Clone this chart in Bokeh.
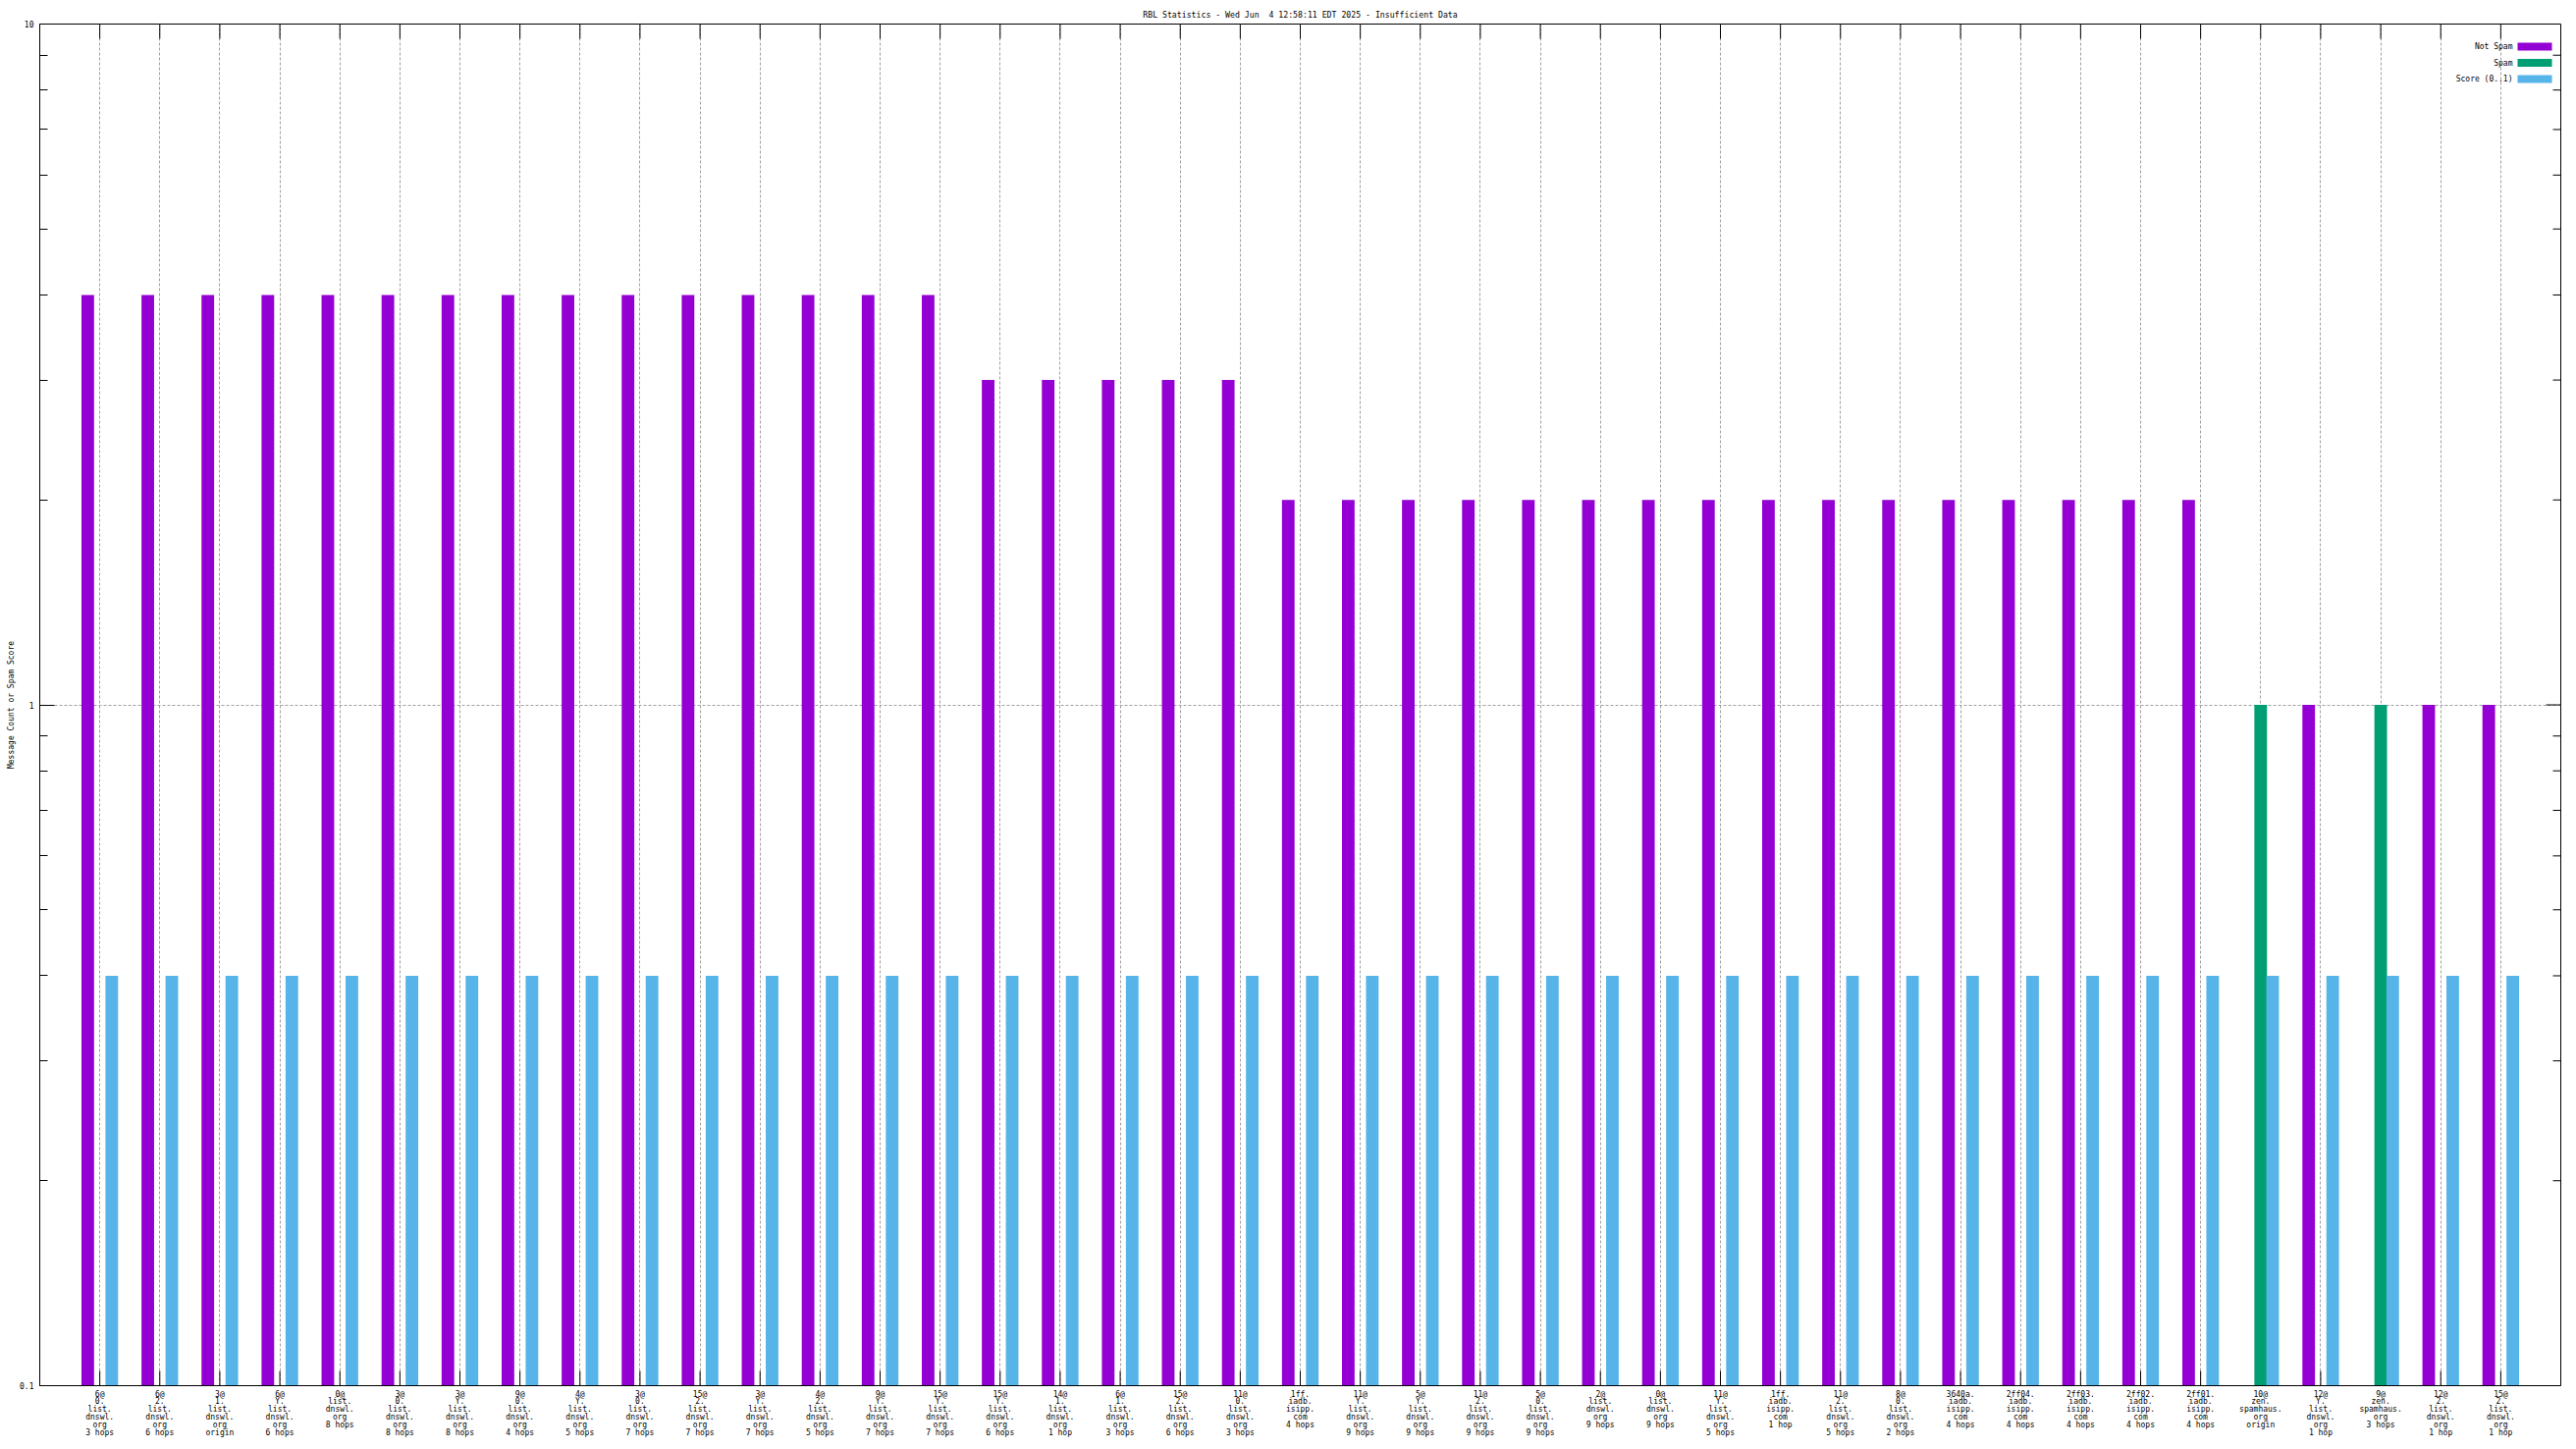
import math
from bokeh.plotting import figure
from bokeh.models import (FixedTicker, Label, BoxAnnotation, Range1d, ColumnDataSource)
from bokeh.embed import file_html
from bokeh.resources import INLINE

# ---------------- data ----------------
categories = [
    "6@\n0.\nlist.\ndnswl.\norg\n3 hops",
    "6@\n2.\nlist.\ndnswl.\norg\n6 hops",
    "3@\n1.\nlist.\ndnswl.\norg\norigin",
    "6@\nY.\nlist.\ndnswl.\norg\n6 hops",
    "0@\nlist.\ndnswl.\norg\n8 hops",
    "3@\n0.\nlist.\ndnswl.\norg\n8 hops",
    "3@\nY.\nlist.\ndnswl.\norg\n8 hops",
    "9@\n0.\nlist.\ndnswl.\norg\n4 hops",
    "4@\nY.\nlist.\ndnswl.\norg\n5 hops",
    "3@\n0.\nlist.\ndnswl.\norg\n7 hops",
    "15@\n2.\nlist.\ndnswl.\norg\n7 hops",
    "3@\nY.\nlist.\ndnswl.\norg\n7 hops",
    "4@\n2.\nlist.\ndnswl.\norg\n5 hops",
    "9@\nY.\nlist.\ndnswl.\norg\n7 hops",
    "15@\nY.\nlist.\ndnswl.\norg\n7 hops",
    "15@\nY.\nlist.\ndnswl.\norg\n6 hops",
    "14@\n1.\nlist.\ndnswl.\norg\n1 hop",
    "6@\n1.\nlist.\ndnswl.\norg\n3 hops",
    "15@\n2.\nlist.\ndnswl.\norg\n6 hops",
    "11@\n0.\nlist.\ndnswl.\norg\n3 hops",
    "1ff.\niadb.\nisipp.\ncom\n4 hops",
    "11@\nY.\nlist.\ndnswl.\norg\n9 hops",
    "5@\nY.\nlist.\ndnswl.\norg\n9 hops",
    "11@\n2.\nlist.\ndnswl.\norg\n9 hops",
    "5@\n0.\nlist.\ndnswl.\norg\n9 hops",
    "2@\nlist.\ndnswl.\norg\n9 hops",
    "0@\nlist.\ndnswl.\norg\n9 hops",
    "11@\nY.\nlist.\ndnswl.\norg\n5 hops",
    "1ff.\niadb.\nisipp.\ncom\n1 hop",
    "11@\n2.\nlist.\ndnswl.\norg\n5 hops",
    "8@\n0.\nlist.\ndnswl.\norg\n2 hops",
    "3640a.\niadb.\nisipp.\ncom\n4 hops",
    "2ff04.\niadb.\nisipp.\ncom\n4 hops",
    "2ff03.\niadb.\nisipp.\ncom\n4 hops",
    "2ff02.\niadb.\nisipp.\ncom\n4 hops",
    "2ff01.\niadb.\nisipp.\ncom\n4 hops",
    "10@\nzen.\nspamhaus.\norg\norigin",
    "12@\nY.\nlist.\ndnswl.\norg\n1 hop",
    "9@\nzen.\nspamhaus.\norg\n3 hops",
    "12@\n2.\nlist.\ndnswl.\norg\n1 hop",
    "15@\n2.\nlist.\ndnswl.\norg\n1 hop",
]

not_spam = [4, 4, 4, 4, 4, 4, 4, 4, 4, 4, 4, 4, 4, 4, 4,
            3, 3, 3, 3, 3,
            2, 2, 2, 2, 2, 2, 2, 2, 2, 2, 2, 2, 2, 2, 2, 2,
            0, 1, 0, 1, 1]
spam = [0, 0, 0, 0, 0, 0, 0, 0, 0, 0, 0, 0, 0, 0, 0,
        0, 0, 0, 0, 0,
        0, 0, 0, 0, 0, 0, 0, 0, 0, 0, 0, 0, 0, 0, 0, 0,
        1, 0, 1, 0, 0]
score = [0.4, 0.4, 0.4, 0.4, 0.4, 0.4, 0.4, 0.4, 0.4, 0.4, 0.4, 0.4, 0.4, 0.4, 0.4,
         0.4, 0.4, 0.4, 0.4, 0.4,
         0.4, 0.4, 0.4, 0.4, 0.4, 0.4, 0.4, 0.4, 0.4, 0.4, 0.4, 0.4, 0.4, 0.4, 0.4, 0.4,
         0.4, 0.4, 0.4, 0.4, 0.4]

series_names = ["Not Spam", "Spam", "Score (0..1)"]
series_colors = ["#9400d3", "#009e73", "#56b4e9"]

y_tick_values = [0.1, 1, 10]
y_tick_labels = ["0.1", "1", "10"]
y_minor_values = [0.2, 0.3, 0.4, 0.5, 0.6, 0.7, 0.8, 0.9, 2, 3, 4, 5, 6, 7, 8, 9]

# the double space after "Jun" is kept with a no-break space (SVG collapses spaces)
title_text = "RBL Statistics - Wed Jun \u00a04 12:58:11 EDT 2025 - Insufficient Data"
y_label = "Message Count or Spam Score"

FONT = "DejaVu Sans Mono"
FS = "8px"

# ---------------- figure ----------------
idx = list(range(len(categories)))
x_lo, x_hi = -1, len(categories)
y_lo, y_hi = 0.1, 10
p = figure(width=2616, height=1468, y_axis_type="log",
           x_range=Range1d(x_lo, x_hi), y_range=Range1d(y_lo, y_hi),
           output_backend="svg", toolbar_location=None,
           min_border_left=40, min_border_right=8, min_border_top=24, min_border_bottom=57,
           background_fill_color="white", border_fill_color="white")

p.title.text = title_text
p.title.align = "center"
p.title.text_font = FONT
p.title.text_font_size = "8.2px"
p.title.text_font_style = "normal"
p.title.text_color = "black"
p.title.standoff = 10
p.title.offset = 0

# grids
p.xgrid.ticker = FixedTicker(ticks=idx)
p.ygrid.ticker = FixedTicker(ticks=y_tick_values)
for g in (p.xgrid[0], p.ygrid[0]):
    g.grid_line_color = "#a0a0a0"
    g.grid_line_dash = "3 2"
    g.grid_line_width = 1
    g.minor_grid_line_color = None

# tick marks drawn as screen-length rays (bottom ones sit behind the bars)
p.ray(x=idx, y=[y_lo] * len(idx), length=15, length_units="screen",
      angle=math.pi / 2, line_color="black", line_width=1)
p.ray(x=idx, y=[y_hi] * len(idx), length=15, length_units="screen",
      angle=-math.pi / 2, line_color="black", line_width=1)
p.ray(x=[x_hi] * len(y_tick_values), y=y_tick_values, length=15, length_units="screen",
      angle=math.pi, line_color="black", line_width=1)
p.ray(x=[x_hi] * len(y_minor_values), y=y_minor_values, length=8, length_units="screen",
      angle=math.pi, line_color="black", line_width=1)

# bars
offsets = [-0.2, 0.0, 0.2]
bar_w = 0.21
for series, off, color in zip([not_spam, spam, score], offsets, series_colors):
    xs = [i + off for i, v in zip(idx, series) if v > 0]
    tops = [v for v in series if v > 0]
    src = ColumnDataSource(dict(x=xs, top=tops))
    p.vbar(x="x", top="top", bottom=y_lo, width=bar_w, source=src,
           fill_color=color, line_color=None)

# x axis (bottom)
xa = p.xaxis[0]
xa.ticker = FixedTicker(ticks=idx)
xa.major_label_overrides = {i: lab for i, lab in zip(idx, categories)}
xa.major_label_text_font = FONT
xa.major_label_text_font_size = FS
xa.major_label_text_color = "black"
xa.major_label_text_line_height = 0.87
xa.major_label_standoff = 4
xa.major_tick_in = 0
xa.major_tick_out = 0
xa.minor_tick_line_color = None
xa.axis_line_color = "black"

# y axis (left)
ya = p.yaxis[0]
ya.ticker = FixedTicker(ticks=y_tick_values, minor_ticks=y_minor_values)
ya.major_label_overrides = {v: s for v, s in zip(y_tick_values, y_tick_labels)}
ya.major_label_text_font = FONT
ya.major_label_text_font_size = FS
ya.major_label_text_color = "black"
ya.major_label_standoff = 6
ya.major_tick_in = 15
ya.major_tick_out = 0
ya.minor_tick_in = 8
ya.minor_tick_out = 0
ya.axis_label = y_label
ya.axis_label_text_font = FONT
ya.axis_label_text_font_size = FS
ya.axis_label_text_font_style = "normal"
ya.axis_label_text_color = "black"
ya.axis_label_standoff = 1
ya.axis_line_color = "black"

p.outline_line_color = "black"
p.outline_line_width = 1
p.outline_line_alpha = 1

# legend (text right, swatch to the right of text, as in the reference)
leg_text_right = 2519
leg_sw_left = 2524
leg_sw_right = 2559
leg_row0 = 1364
leg_step = 16.5
for k, (name, color) in enumerate(zip(series_names, series_colors)):
    yc = leg_row0 - k * leg_step
    p.add_layout(Label(x=leg_text_right, y=yc, x_units="screen", y_units="screen",
                       text=name, text_align="right", text_baseline="middle",
                       text_font=FONT, text_font_size=FS, text_color="black"))
    p.add_layout(BoxAnnotation(left=leg_sw_left, right=leg_sw_right,
                               top=yc + 4, bottom=yc - 4,
                               left_units="screen", right_units="screen",
                               top_units="screen", bottom_units="screen",
                               fill_color=color, fill_alpha=1.0,
                               line_color=None))

open("out.html", "w").write(file_html(p, INLINE))
